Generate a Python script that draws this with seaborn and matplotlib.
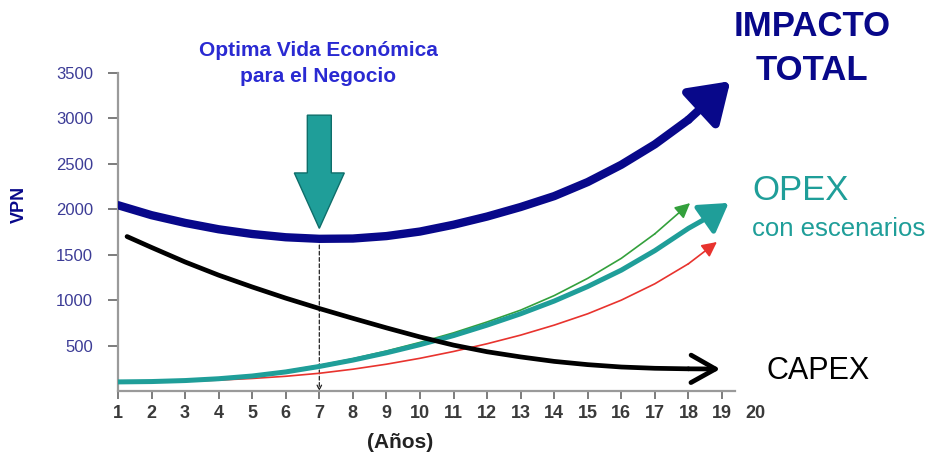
import matplotlib
matplotlib.use("Agg")
import matplotlib.pyplot as plt
import seaborn as sns
import pandas as pd

# ---------------------------------------------------------------------
# Data (x = año, y = VPN)
# ---------------------------------------------------------------------
total_x = [1, 2, 3, 4, 5, 6, 7, 8, 9, 10, 11, 12, 13, 14, 15, 16, 17, 18, 19.25]
total_y = [2045, 1935, 1850, 1780, 1728, 1692, 1675, 1678, 1705, 1755,
           1830, 1920, 2025, 2145, 2300, 2490, 2715, 2985, 3410]

opex_x = [1, 2, 3, 4, 5, 6, 7, 8, 9, 10, 11, 12, 13, 14, 15, 16, 17, 18, 18.6, 19.2]
opex_y = [100, 104, 115, 135, 165, 210, 270, 340, 420, 510,
          610, 725, 850, 990, 1150, 1330, 1545, 1790, 1915, 2070]

opex_hi_x = [1, 2, 3, 4, 5, 6, 7, 8, 9, 10, 11, 12, 13, 14, 15, 16, 17, 18.05]
opex_hi_y = [100, 105, 118, 140, 172, 220, 282, 355, 440, 535,
             640, 760, 890, 1050, 1240, 1460, 1730, 2068]

opex_lo_x = [2.5, 3, 4, 5, 6, 7, 8, 9, 10, 11, 12, 13, 14, 15, 16, 17, 18, 18.85]
opex_lo_y = [100, 106, 120, 138, 162, 195, 240, 295, 360, 435,
             520, 615, 725, 850, 1000, 1180, 1400, 1640]

capex_x = [1.27, 2, 3, 4, 5, 6, 7, 8, 9, 10, 11, 12, 13, 14, 15, 16, 17, 18, 18.95]
capex_y = [1700, 1580, 1420, 1275, 1145, 1022, 908, 800, 695, 595,
           505, 432, 375, 326, 290, 264, 250, 244, 242]

optimo_x = 7
optimo_y = 1675

x_ticks = list(range(1, 21))
y_ticks = [500, 1000, 1500, 2000, 2500, 3000, 3500]

NAVY = "#08088a"
TEAL = "#1f9e99"
GREEN = "#33a03c"
RED = "#e8332e"
BLUE_TXT = "#2a2ad2"

sns.set_theme(style="white")
plt.rcParams["font.family"] = ["Liberation Sans", "DejaVu Sans"]

W, H = 935, 457
fig = plt.figure(figsize=(W / 100, H / 100), dpi=100)
ax = fig.add_axes([118 / W, 1 - 391 / H, (755.5 - 118) / W, (391 - 73) / H])


def px(x, y):
    return x / W, 1 - y / H


def curve(xs, ys, color, lw, head, zorder):
    # line up to the second-to-last point, last segment carries the arrowhead
    df = pd.DataFrame({"x": xs[:-1], "y": ys[:-1]})
    sns.lineplot(data=df, x="x", y="y", sort=False, color=color, lw=lw,
                 ax=ax, zorder=zorder, solid_capstyle="round",
                 solid_joinstyle="round")
    ax.annotate("", xy=(xs[-1], ys[-1]), xytext=(xs[-2], ys[-2]),
                arrowprops=dict(arrowstyle=head[0], mutation_scale=head[1],
                                color=color, lw=lw, shrinkA=0, shrinkB=0),
                zorder=zorder, annotation_clip=False)


curve(opex_lo_x, opex_lo_y, RED, 1.2, ("-|>,head_length=0.9,head_width=0.45", 10), 3)
curve(opex_hi_x, opex_hi_y, GREEN, 1.2, ("-|>,head_length=0.9,head_width=0.45", 10), 3)
curve(opex_x, opex_y, TEAL, 3.6, ("-|>,head_length=0.9,head_width=0.55", 19), 4)
curve(capex_x, capex_y, "black", 3.4, ("->,head_length=0.8,head_width=0.45", 22), 5)
curve(total_x, total_y, NAVY, 6.0, ("-|>,head_length=0.9,head_width=0.6", 26), 6)

# dashed guide from the optimum down to the axis
ax.annotate("", xy=(optimo_x, 0), xytext=(optimo_x, optimo_y),
            arrowprops=dict(arrowstyle="->", linestyle=(0, (3, 2)), lw=0.9,
                            color="#222222", shrinkA=0, shrinkB=0,
                            mutation_scale=8), zorder=2)

# big down arrow pointing at the optimum
ax.arrow(optimo_x, 3036, 0, 1790 - 3036, width=0.715, head_width=1.49,
         head_length=610, length_includes_head=True, facecolor=TEAL,
         edgecolor="#0e6e6a", lw=1.0, zorder=7, clip_on=False)

ax.set_xlim(1, 20)
ax.set_ylim(0, 3500)
ax.set_xticks(x_ticks)
ax.set_yticks(y_ticks)
ax.set_xlabel("")
ax.set_ylabel("")

for side in ["top", "right"]:
    ax.spines[side].set_visible(False)
for side in ["left", "bottom"]:
    ax.spines[side].set_color("#9a9a9a")
    ax.spines[side].set_linewidth(1.6)
ax.spines["bottom"].set_bounds(1, 19.4)

ax.tick_params(axis="y", left=True, direction="out", length=7, width=1.2,
               color="#666666", labelsize=12, labelcolor="#3c3c96", pad=11)
ax.tick_params(axis="x", bottom=True, direction="out", length=6, width=1.2,
               color="#666666", labelsize=13, labelcolor="#3a3a3a", pad=4)
ax.xaxis.get_major_ticks()[-1].tick1line.set_visible(False)
for lab in ax.get_xticklabels():
    lab.set_fontfamily(["Liberation Sans Narrow", "Liberation Sans"])
    lab.set_fontweight("bold")

# texts
fig.text(*px(19, 204), "VPN", rotation=90, ha="center", va="center",
         fontsize=13, fontweight="bold", color=NAVY)
fig.text(*px(400, 443), "(Años)", ha="center", va="center",
         fontsize=15, fontweight="bold", color="#222222")
fig.text(*px(318, 50), "Optima Vida Económica", ha="center", va="center",
         fontsize=15, fontweight="bold", color=BLUE_TXT)
fig.text(*px(318, 77), "para el Negocio", ha="center", va="center",
         fontsize=15, fontweight="bold", color=BLUE_TXT)
fig.text(*px(812, 26), "IMPACTO", ha="center", va="center",
         fontsize=25, fontweight="bold", color=NAVY)
fig.text(*px(812, 70), "TOTAL", ha="center", va="center",
         fontsize=25, fontweight="bold", color=NAVY)
fig.text(*px(752, 190), "OPEX", ha="left", va="center",
         fontsize=25, color=TEAL)
fig.text(*px(752, 229), "con escenarios", ha="left", va="center",
         fontsize=18.5, color=TEAL)
fig.text(*px(767, 371), "CAPEX", ha="left", va="center",
         fontsize=22, color="black")

fig.savefig("out.png", dpi=100)
